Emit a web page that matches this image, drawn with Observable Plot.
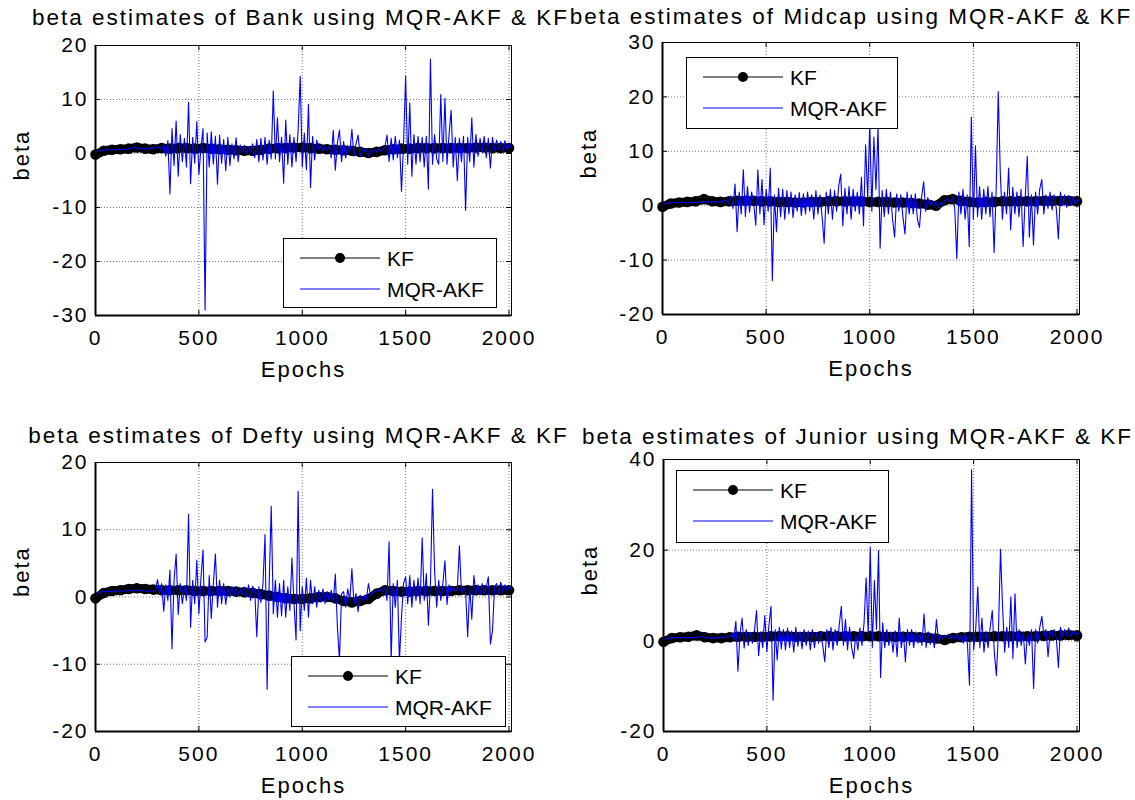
<!DOCTYPE html>
<html><head><meta charset="utf-8">
<script src="https://cdn.jsdelivr.net/npm/d3@7"></script>
<script src="https://cdn.jsdelivr.net/npm/@observablehq/plot@0.6"></script>
<style>
body{margin:0;background:#fff;}
#wrap{position:relative;width:1135px;height:800px;overflow:hidden;background:#fff;font-family:"Liberation Sans",Arial,sans-serif;}
.panel{position:absolute;}
.legend{position:absolute;background:#fff;border:1px solid #000;box-sizing:border-box;}
.legend .lab{position:absolute;font-size:21px;line-height:1;transform:translateY(-50%);color:#000;white-space:nowrap;}
</style></head><body><div id="wrap"></div>
<script>
// ---- data ----
const epochStep = 10;   // MQR-AKF sampled every 10 epochs
const kfStep = 40;      // KF sampled every 40 epochs
const xTicks = [0, 500, 1000, 1500, 2000];

const bankYTicks = [-30, -20, -10, 0, 10, 20];
const midcapYTicks = [-20, -10, 0, 10, 20, 30];
const deftyYTicks = [-20, -10, 0, 10, 20];
const juniorYTicks = [-20, 0, 20, 40];

const bankMQR = [
0.2,0.4,0.5,0.6,0.6,0.7,0.7,0.7,0.7,0.7,
0.7,0.8,0.8,0.8,0.8,0.8,0.9,0.9,1.1,1.1,
1.0,0.9,0.9,0.9,0.8,0.9,0.9,0.9,1.0,1.1,
1.2,1.0,0.8,1.6,-0.5,2.4,-7.5,4.6,-2.2,6.0,
-4.2,3.5,-1.5,2.8,-2.5,9.5,-5.6,3.0,-1.8,5.9,
-3.9,1.0,4.6,-29,3.8,-2.5,4.0,-2.0,3.2,-5.7,
3.4,-1.8,2.6,-3.2,3.0,-2.2,1.8,-1.0,2.9,-1.5,
1.6,0.2,1.5,0.0,1.2,0.4,1.8,-0.8,2.6,-1.5,
2.8,-1.2,3.0,-2.0,2.5,-1.0,11.6,-1.0,6.6,-1.5,
3.0,-5.5,6.2,-2.0,3.5,-2.5,3.0,-1.5,4.3,14.3,
-2.5,3.8,-3.0,9.1,-6.3,3.2,-1.2,2.5,0.8,1.5,
0.5,1.2,0.6,1.4,-0.8,4.3,-3.1,2.0,4.3,-1.5,
2.2,-0.8,1.5,0.2,4.5,-0.5,1.8,3.4,-0.6,1.0,
0.3,0.8,-0.4,0.5,0.2,0.6,0.3,0.9,0.4,0.8,
1.2,3.4,-1.5,2.8,-1.2,3.2,-0.8,2.5,-7.0,1.8,
14.3,-2.0,9.4,-4.2,3.5,-2.0,3.2,-1.5,3.0,-2.5,
3.2,-6.6,17.5,-2.0,3.5,-1.0,-2.0,10.9,-1.5,10.2,
-2.0,3.5,8.0,-2.5,3.0,-5.0,2.8,-1.5,3.2,-10.5,
3.0,-1.5,6.6,-2.5,3.5,-0.5,2.8,0.2,3.2,-0.8,
2.8,-2.7,3.0,0.5,2.5,0.8,2.2,0.5,2.4,0.7,
1.8,1.0];
const bankKF = [
-0.2,0.5,0.7,0.8,0.9,1.1,0.9,0.8,1.0,0.9,
1.0,1.0,0.9,1.0,0.9,0.8,0.7,0.6,0.5,0.5,
0.7,0.9,1.0,1.0,1.1,1.1,1.0,0.9,0.8,0.7,
0.6,0.5,0.3,0.1,0.3,0.6,0.8,0.9,0.9,1.0,
1.0,1.0,1.0,1.0,1.0,1.0,1.1,1.1,1.0,1.0,1.0];

const midcapMQR = [
0.2,0.3,0.4,0.5,0.6,0.6,0.6,0.6,0.6,0.6,
0.6,0.6,0.6,0.6,0.6,0.6,0.6,0.6,0.7,0.7,
0.7,0.7,0.7,0.7,0.7,0.7,0.7,0.7,0.7,0.7,
1.1,0.8,0.5,1.8,-0.5,4.0,-4.8,2.5,-1.5,6.6,
-2.0,3.5,-1.2,2.5,0.5,-3.6,6.6,-1.5,4.8,-3.5,
3.0,-1.0,6.9,-13.8,2.0,-4.8,3.2,-2.0,3.0,-2.5,
2.8,-1.5,2.5,-2.2,2.0,-1.0,2.4,-1.8,2.2,-1.5,
2.5,-1.0,2.0,-2.5,2.8,-1.5,2.0,-2.0,-6.9,2.5,
-1.5,3.0,-2.5,2.8,-1.0,3.6,5.8,-3.7,3.2,-1.5,
3.5,-2.5,3.0,-1.0,2.5,-1.5,5.2,-3.7,11.2,1.5,
15.0,-1.0,12.6,3.0,14.5,-7.8,2.8,-2.0,3.0,-1.5,
2.5,-2.5,-5.8,2.2,-1.0,2.0,-2.0,-5.2,2.5,-1.5,
2.0,-1.5,2.2,-2.5,-4.0,1.5,4.4,-1.0,1.5,0.0,
1.0,0.0,0.8,-0.5,0.5,0.2,0.9,1.2,1.0,0.8,
1.5,-0.5,-9.7,2.5,-1.5,3.0,-2.5,2.0,-7.5,16.3,
-2.5,11.0,-2.0,3.5,-2.5,3.0,-1.5,3.5,-2.0,2.5,
-8.6,3.0,21.0,5.8,-2.5,2.5,-1.5,6.9,-4.4,3.4,
-1.5,2.5,-2.0,3.0,-7.5,1.5,9.1,-5.8,2.0,-7.2,
2.5,-1.5,3.0,4.8,-1.5,2.0,-0.5,2.5,-0.8,2.0,
-0.5,-6.1,2.5,0.0,2.0,-0.3,1.8,0.0,1.6,0.2,
1.2,0.8];
const midcapKF = [
-0.2,0.4,0.6,0.7,0.8,1.2,0.8,0.7,0.8,0.9,
0.9,0.9,0.8,0.8,0.7,0.7,0.6,0.6,0.7,0.7,
0.8,0.8,0.8,0.8,0.8,0.7,0.7,0.7,0.6,0.6,
0.5,0.4,0.2,0.0,1.0,1.2,0.9,0.7,0.6,0.7,
0.7,0.8,0.8,0.8,0.8,0.8,0.9,0.9,0.9,0.9,0.8];

const deftyMQR = [
0.3,0.5,0.7,0.8,0.8,0.8,0.8,0.8,0.8,0.8,
0.9,0.9,0.9,0.9,0.9,0.9,0.9,0.9,1.0,1.0,
1.0,1.0,1.0,0.9,0.9,0.9,0.9,0.9,0.9,1.0,
2.6,0.5,2.0,-2.1,1.8,-0.5,4.0,-7.7,2.5,6.4,
-2.6,2.0,-1.0,1.5,-0.5,12.3,-4.5,2.5,-1.0,5.5,
-2.5,2.8,7.0,-6.7,-6.0,3.2,-3.2,2.0,6.4,-1.5,
2.5,-1.0,2.0,-1.1,1.5,0.0,1.6,0.2,1.4,0.3,
1.2,0.4,1.5,0.0,1.8,-0.5,1.6,1.0,-5.9,1.5,
-0.8,2.0,9.3,-13.7,2.0,13.5,-2.5,2.5,-3.0,2.0,
-2.8,2.5,-3.0,1.5,-2.0,5.8,-1.0,-6.4,15.7,-5.0,
1.5,-2.0,2.8,-3.0,2.5,-1.0,1.5,-1.5,1.0,-0.8,
1.2,-1.0,0.8,-0.5,1.0,-0.8,3.4,-4.5,-9.5,0.5,
0.8,-1.5,1.2,-0.5,4.2,-1.0,0.5,-2.2,0.3,-0.5,
0.2,-0.4,2.0,0.3,0.6,0.8,1.0,0.9,1.2,0.8,
1.5,-0.5,8.2,-9.5,2.0,-1.5,2.5,-9.5,-3.0,2.0,
3.0,-1.0,3.2,-1.5,2.5,-0.5,2.8,-1.0,8.8,-0.5,
3.5,-4.2,2.0,16.0,3.9,-1.5,2.5,-0.5,2.0,5.4,
-1.1,1.8,0.8,1.5,0.9,1.2,7.6,0.5,1.5,0.8,
-5.9,1.5,-3.3,3.2,0.5,1.8,0.3,2.0,0.5,1.5,
3.0,-7.0,-5.0,1.5,2.0,0.5,2.2,0.8,1.8,1.0,
1.6,1.2];
const deftyKF = [
-0.2,0.6,0.9,1.0,1.2,1.3,1.2,1.1,1.0,1.0,
1.0,1.0,0.9,0.9,0.9,0.9,0.9,0.8,0.7,0.6,
0.4,0.2,0.0,-0.2,-0.3,-0.3,-0.2,0.0,0.0,-0.2,
-0.6,-0.8,-0.6,-0.3,0.5,1.0,0.9,0.8,0.8,0.9,
0.9,0.9,0.9,0.9,1.0,1.0,1.0,1.0,1.0,1.0,1.0];

const juniorMQR = [
0.2,0.4,0.5,0.6,0.7,0.7,0.7,0.7,0.7,0.7,
0.7,0.7,0.7,0.7,0.7,0.7,0.8,0.9,1.0,0.9,
0.8,0.7,0.6,0.6,0.6,0.6,0.7,0.7,0.7,0.8,
0.8,0.9,1.0,1.5,0.2,4.3,-6.7,1.5,5.0,-1.6,
2.5,-1.0,1.8,-0.5,2.2,6.7,-3.3,2.0,-1.5,5.6,
-2.4,3.5,7.6,-13.1,2.5,-4.2,3.0,-1.8,2.5,-2.0,
2.8,-1.5,2.2,-2.5,3.0,-1.2,2.0,-1.8,2.5,-1.0,
2.2,-2.0,2.5,-1.5,1.8,-0.5,2.0,-1.0,-4.6,2.5,
-1.5,3.0,-2.0,2.5,-1.0,3.5,7.6,-1.0,4.7,-2.0,
3.0,-1.5,-3.9,1.5,-2.0,2.8,-1.0,3.9,13.9,1.5,
20.6,-1.5,13.3,2.5,19.9,-8.1,4.0,-1.5,2.5,-1.0,
2.0,-2.5,2.2,-3.5,5.0,-1.5,2.0,-4.6,2.5,-1.0,
2.5,-1.5,2.0,-0.5,1.5,-1.0,5.9,-1.5,2.0,-0.8,
1.5,-1.5,4.7,0.0,1.2,0.5,1.0,0.8,1.5,0.5,
1.0,0.5,1.5,0.0,1.2,-0.5,1.8,-0.8,-9.8,37.8,
-2.0,2.5,11.9,-1.5,5.0,-2.5,2.0,-1.5,3.0,6.7,
-2.5,-7.7,2.0,20.2,7.3,-2.5,3.0,-1.5,9.7,-3.9,
10.4,-1.5,2.5,-1.0,2.0,-5.1,1.5,-1.0,2.5,-10.5,
2.5,-0.5,3.0,5.4,1.0,2.5,-3.5,2.2,1.0,2.5,
0.5,-5.9,3.0,1.0,2.5,1.2,2.8,1.0,2.2,1.4,
1.8,1.5];
const juniorKF = [
-0.2,0.6,0.8,0.9,1.2,0.8,0.6,0.6,0.8,0.9,
0.9,0.9,0.9,1.0,1.0,1.0,0.9,0.9,0.9,1.0,
1.0,1.0,1.0,1.0,1.0,1.0,1.0,0.9,0.9,0.9,
0.9,0.8,0.7,0.5,0.2,0.6,0.8,0.9,0.9,0.9,
1.0,1.0,1.0,1.0,1.0,1.0,1.1,1.2,1.2,1.3,1.2];

// ---- layout ----
const panels = [
  {title:"beta estimates of Bank using MQR-AKF & KF", mqr:bankMQR, kf:bankKF, yTicks:bankYTicks,
   left:0, top:0, w:570, h:400, ml:95, mr:59, mt:45, mb:85, tdx:-3, tdy:-28,
   legend:{x:283, y:238, w:214, h:70}},
  {title:"beta estimates of Midcap using MQR-AKF & KF", mqr:midcapMQR, kf:midcapKF, yTicks:midcapYTicks,
   left:570, top:0, w:565, h:400, ml:92, mr:56, mt:42, mb:86, tdx:-20, tdy:-26,
   legend:{x:686, y:57, w:212, h:72}},
  {title:"beta estimates of Defty using MQR-AKF & KF", mqr:deftyMQR, kf:deftyKF, yTicks:deftyYTicks,
   left:0, top:400, w:570, h:400, ml:95, mr:59, mt:62, mb:69, tdx:-5, tdy:-27,
   legend:{x:291, y:656, w:215, h:71}},
  {title:"beta estimates of Junior using MQR-AKF & KF", mqr:juniorMQR, kf:juniorKF, yTicks:juniorYTicks,
   left:570, top:400, w:565, h:400, ml:93, mr:56, mt:59, mb:69, tdx:-14, tdy:-23,
   legend:{x:676, y:470, w:213, h:73}}
];

const wrap = document.getElementById("wrap");
const fmt = d => String(d);

for (const p of panels) {
  const mqrData = p.mqr.map((v, i) => ({epoch: i * epochStep, beta: v}));
  const kfData = p.kf.map((v, i) => ({epoch: i * kfStep, beta: v}));
  const innerW = p.w - p.ml - p.mr, innerH = p.h - p.mt - p.mb;
  const yDomain = [p.yTicks[0], p.yTicks[p.yTicks.length - 1]];
  const gridStyle = {stroke:"#444", strokeOpacity:0.9, strokeWidth:0.8, strokeDasharray:"1,2"};
  const svg = Plot.plot({
    width: p.w, height: p.h,
    marginLeft: p.ml, marginRight: p.mr, marginTop: p.mt, marginBottom: p.mb,
    x: {domain: [0, 2012]},
    y: {domain: yDomain},
    style: {fontFamily: '"Liberation Sans", Arial, sans-serif', fontSize: "21px", letterSpacing: "2px", color: "#000", background: "transparent", overflow: "visible"},
    marks: [
      Plot.gridX({ticks: xTicks.slice(1), ...gridStyle}),
      Plot.gridY({ticks: p.yTicks, ...gridStyle}),
      Plot.line(kfData, {x: "epoch", y: "beta", stroke: "#000", strokeWidth: 9, strokeLinejoin: "round", strokeLinecap: "round"}),
      Plot.dot(kfData, {x: "epoch", y: "beta", r: 5.3, fill: "#000"}),
      Plot.line(mqrData, {x: "epoch", y: "beta", stroke: "#0000ff", strokeWidth: 1.1}),
      Plot.frame({stroke: "#000", strokeWidth: 1}),
      Plot.ruleX([0], {stroke: "#000", strokeWidth: 2}),
      Plot.ruleY([yDomain[0]], {stroke: "#000", strokeWidth: 2}),
      Plot.tickY(p.yTicks, {y: d => d, insetRight: innerW - 5, stroke: "#000"}),
      Plot.tickY(p.yTicks, {y: d => d, insetLeft: innerW - 5, stroke: "#000"}),
      Plot.tickX(xTicks, {x: d => d, insetTop: innerH - 5, stroke: "#000"}),
      Plot.tickX(xTicks, {x: d => d, insetBottom: innerH - 5, stroke: "#000"}),
      Plot.axisX({ticks: xTicks, tickFormat: fmt, tickSize: 0, tickPadding: 15, label: null, fontSize: 21}),
      Plot.axisY({ticks: p.yTicks, tickFormat: fmt, tickSize: 0, tickPadding: 7, label: null, fontSize: 21}),
      Plot.text([p.title], {frameAnchor: "top", lineAnchor: "middle", dx: p.tdx, dy: p.tdy, fontSize: 22.5}),
      Plot.text(["Epochs"], {frameAnchor: "bottom", lineAnchor: "middle", dy: 54, fontSize: 22}),
      Plot.text(["beta"], {frameAnchor: "left", lineAnchor: "middle", dx: -74, rotate: -90, fontSize: 22})
    ]
  });
  const holder = document.createElement("div");
  holder.className = "panel";
  holder.style.left = p.left + "px";
  holder.style.top = p.top + "px";
  holder.appendChild(svg);
  wrap.appendChild(holder);

  const L = p.legend;
  const lg = document.createElement("div");
  lg.className = "legend";
  Object.assign(lg.style, {left: L.x + "px", top: L.y + "px", width: L.w + "px", height: L.h + "px"});
  lg.innerHTML =
    `<svg width="${L.w}" height="${L.h}" style="position:absolute;left:0;top:0">
      <line x1="16" x2="96" y1="19" y2="19" stroke="#000" stroke-width="1"/>
      <circle cx="56" cy="19" r="5" fill="#000"/>
      <line x1="16" x2="96" y1="50" y2="50" stroke="#0000ff" stroke-width="1"/>
    </svg>
    <span class="lab" style="left:103px;top:19px">KF</span>
    <span class="lab" style="left:103px;top:50px">MQR-AKF</span>`;
  wrap.appendChild(lg);
}
</script></body></html>
